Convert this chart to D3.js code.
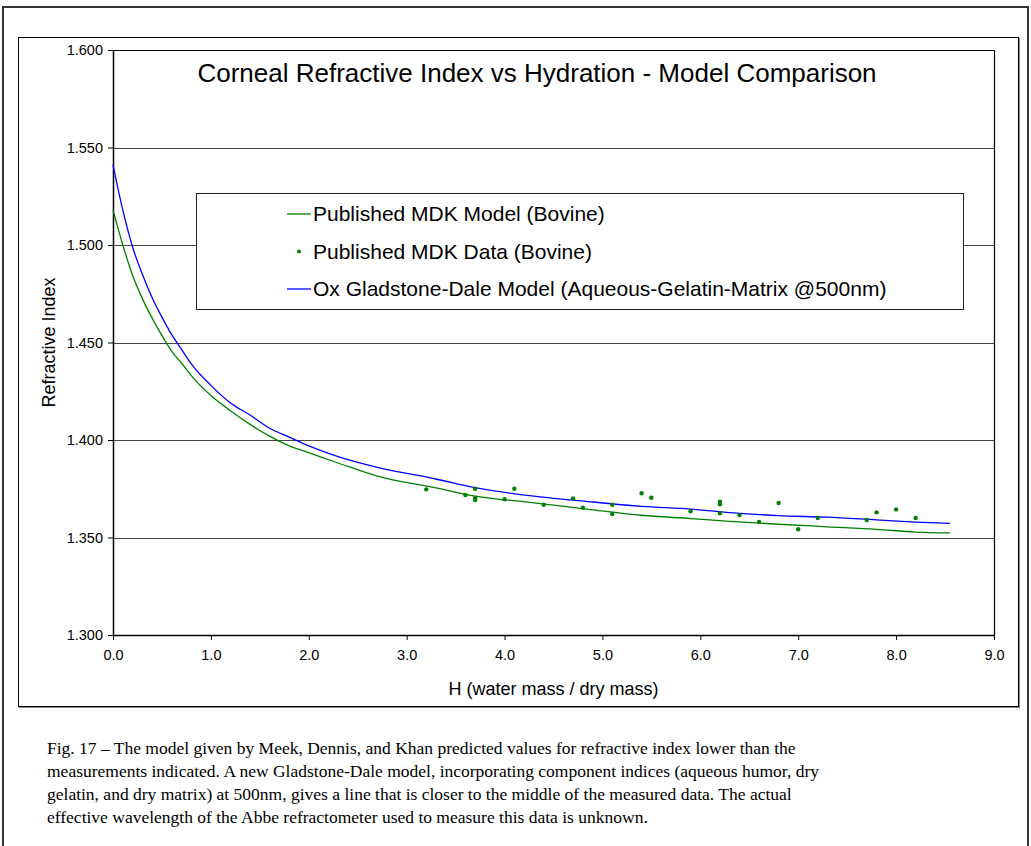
<!DOCTYPE html>
<html>
<head>
<meta charset="utf-8">
<script src="https://cdn.jsdelivr.net/npm/d3@7"></script>
<style>
  body { margin: 0; background: #fff; }
  svg { display: block; }
</style>
</head>
<body>
<svg id="chart"></svg>
<script>
// ---------------------------------------------------- DATA ------------------------------------------------------------------

// hydration values used for both model curves
var modelH = [0, 0.1, 0.2, 0.3, 0.4, 0.5, 0.6, 0.7, 0.8, 1.0, 1.2, 1.4, 1.6, 1.8, 2.0, 2.3, 2.7, 3.3, 3.7, 4.3, 4.9, 5.4, 5.9, 6.3, 6.8, 7.3, 7.8, 8.2, 8.55];

// Published MDK Model (Bovine) - green line
var mdkModel = [1.518, 1.500, 1.4845, 1.4725, 1.4625, 1.4535, 1.4455, 1.4395, 1.433, 1.4228, 1.415, 1.408, 1.402, 1.397, 1.3935, 1.3882, 1.3815, 1.3755, 1.3712, 1.3678, 1.3642, 1.3614, 1.3597, 1.3583, 1.3568, 1.3555, 1.3542, 1.3528, 1.3524];

// Ox Gladstone-Dale Model - blue line
var gdModel = [1.541, 1.518, 1.499, 1.485, 1.473, 1.463, 1.454, 1.4465, 1.439, 1.428, 1.419, 1.4128, 1.406, 1.4015, 1.397, 1.3915, 1.386, 1.380, 1.3756, 1.3712, 1.3682, 1.366, 1.3646, 1.3628, 1.3612, 1.3604, 1.359, 1.3579, 1.3572];

// Published MDK Data (Bovine) - green dots
var dataH  = [3.2, 3.6, 3.7, 3.7, 3.7, 4.0, 4.1, 4.4, 4.7, 4.8, 5.1, 5.1, 5.4, 5.5, 5.9, 6.2, 6.2, 6.2, 6.4, 6.6, 6.8, 7.0, 7.2, 7.7, 7.8, 8.0, 8.2];
var dataRI = [1.3747, 1.3718, 1.375, 1.3703, 1.3692, 1.3696, 1.375, 1.3668, 1.370, 1.3653, 1.3668, 1.362, 1.3727, 1.3704, 1.3634, 1.3684, 1.367, 1.3624, 1.3615, 1.358, 1.3677, 1.3542, 1.360, 1.359, 1.3629, 1.3644, 1.360];

var xTicks = [0, 1, 2, 3, 4, 5, 6, 7, 8, 9];
var yTicks = [1.30, 1.35, 1.40, 1.45, 1.50, 1.55, 1.60];

var legendLabels = ["Published MDK Model (Bovine)", "Published MDK Data (Bovine)", "Ox Gladstone-Dale Model (Aqueous-Gelatin-Matrix @500nm)"];

var captionLines = [
    "Fig. 17 \u2013 The model given by Meek, Dennis, and Khan predicted values for refractive index lower than the",
    "measurements indicated. A new Gladstone-Dale model, incorporating component indices (aqueous humor, dry",
    "gelatin, and dry matrix) at 500nm, gives a line that is closer to the middle of the measured data. The actual",
    "effective wavelength of the Abbe refractometer used to measure this data is unknown."
];

// ---------------------------------------------------- LAYOUT ------------------------------------------------------------------

var svgWidth = 1031, svgHeight = 846;
var plot = { left: 113, top: 50, right: 994, bottom: 635 };
var green = "#008000", blue = "#0000ff";
var sans = "'Liberation Sans', Arial, sans-serif";

var svg = d3.select('#chart')
    .attr("width", svgWidth)
    .attr("height", svgHeight);

//outer page frame
svg.append("rect")
    .attr("x", 3).attr("y", 7)
    .attr("width", 1025).attr("height", 860)
    .attr("fill", "none")
    .attr("stroke", "#333")
    .attr("stroke-width", 2);

//chart area frame (with a little grey shadow like excel)
svg.append("rect")
    .attr("x", 18.5).attr("y", 37.5)
    .attr("width", 1000).attr("height", 669)
    .attr("fill", "none")
    .attr("stroke", "#888")
    .attr("stroke-width", 1)
    .attr("transform", "translate(1,1)");
svg.append("rect")
    .attr("x", 18.5).attr("y", 37.5)
    .attr("width", 1000).attr("height", 669)
    .attr("fill", "#fff")
    .attr("stroke", "#000")
    .attr("stroke-width", 1);

// ---------------------------------------------------- SCALES / AXES ------------------------------------------------------------------

var xScale = d3.scaleLinear()
    .domain([0, 9])
    .range([plot.left, plot.right]);

var yScale = d3.scaleLinear()
    .domain([1.3, 1.6])
    .range([plot.bottom, plot.top]);

//gridlines
svg.append("g")
    .selectAll("line")
    .data(yTicks.slice(1, -1))
    .enter()
    .append("line")
    .attr("x1", plot.left)
    .attr("x2", plot.right)
    .attr("y1", function(d) { return Math.round(yScale(d)) + 0.5; })
    .attr("y2", function(d) { return Math.round(yScale(d)) + 0.5; })
    .attr("stroke", "#444")
    .attr("stroke-width", 1);

//plot frame top and right
svg.append("path")
    .attr("d", "M" + plot.left + "," + (plot.top + 0.5) + "H" + (plot.right + 0.5) + "V" + plot.bottom)
    .attr("fill", "none")
    .attr("stroke", "#000")
    .attr("stroke-width", 1.2);

var x_axis = d3.axisBottom(xScale)
    .tickValues(xTicks)
    .tickFormat(d3.format(".1f"))
    .tickSizeInner(5)
    .tickSizeOuter(0)
    .tickPadding(10);

var y_axis = d3.axisLeft(yScale)
    .tickValues(yTicks)
    .tickFormat(d3.format(".3f"))
    .tickSizeInner(5)
    .tickSizeOuter(0)
    .tickPadding(5);

var gx = svg.append("g")
    .attr("transform", "translate(0," + plot.bottom + ")")
    .call(x_axis);

var gy = svg.append("g")
    .attr("transform", "translate(" + plot.left + ",0)")
    .call(y_axis);

[gx, gy].forEach(function(g) {
    g.selectAll("text")
        .attr("font-family", sans)
        .attr("font-size", 14.5)
        .attr("fill", "#000");
    g.select(".domain").attr("stroke", "#000").attr("stroke-width", 1.5);
    g.selectAll(".tick line").attr("stroke", "#000");
});

//axis titles
svg.append("text")
    .attr("x", (plot.left + plot.right) / 2)
    .attr("y", 695)
    .attr("text-anchor", "middle")
    .attr("font-family", sans)
    .attr("font-size", 18)
    .text("H (water mass / dry mass)");

svg.append("text")
    .attr("transform", "translate(55," + ((plot.top + plot.bottom) / 2) + ") rotate(-90)")
    .attr("text-anchor", "middle")
    .attr("font-family", sans)
    .attr("font-size", 18)
    .text("Refractive Index");

//chart title
svg.append("text")
    .attr("x", 537)
    .attr("y", 82)
    .attr("text-anchor", "middle")
    .attr("font-family", sans)
    .attr("font-size", 26)
    .text("Corneal Refractive Index vs Hydration - Model Comparison");

// ---------------------------------------------------- SERIES ------------------------------------------------------------------

var line = d3.line()
    .x(function(d) { return xScale(d[0]); })
    .y(function(d) { return yScale(d[1]); })
    .curve(d3.curveMonotoneX);

svg.append("path")
    .datum(d3.zip(modelH, mdkModel))
    .attr("fill", "none")
    .attr("stroke", green)
    .attr("stroke-width", 1.3)
    .attr("d", line);

svg.append("path")
    .datum(d3.zip(modelH, gdModel))
    .attr("fill", "none")
    .attr("stroke", blue)
    .attr("stroke-width", 1.3)
    .attr("d", line);

svg.append("g")
    .selectAll("circle")
    .data(d3.zip(dataH, dataRI))
    .enter()
    .append("circle")
    .attr("cx", function(d) { return xScale(d[0]); })
    .attr("cy", function(d) { return yScale(d[1]); })
    .attr("r", 2.2)
    .attr("fill", green);

// ---------------------------------------------------- LEGEND ------------------------------------------------------------------

var legend = svg.append("g");

legend.append("rect")
    .attr("x", 196.5).attr("y", 193.5)
    .attr("width", 767).attr("height", 116)
    .attr("fill", "#fff")
    .attr("stroke", "#222")
    .attr("stroke-width", 1);

var legendY = d3.scalePoint()
    .domain(legendLabels)
    .range([214, 289]);

var items = legend.selectAll("g.item")
    .data(legendLabels)
    .enter()
    .append("g")
    .attr("class", "item")
    .attr("transform", function(d) { return "translate(0," + legendY(d) + ")"; });

items.append("text")
    .attr("x", 313)
    .attr("dy", "0.35em")
    .attr("font-family", sans)
    .attr("font-size", 21)
    .text(function(d) { return d; });

items.filter(function(d, i) { return i !== 1; })
    .append("line")
    .attr("x1", 287).attr("x2", 311)
    .attr("stroke", function(d, i) { return i === 0 ? green : blue; })
    .attr("stroke-width", 1.3);

items.filter(function(d, i) { return i === 1; })
    .append("circle")
    .attr("cx", 299)
    .attr("r", 2)
    .attr("fill", green);

// ---------------------------------------------------- CAPTION ------------------------------------------------------------------

svg.append("g")
    .selectAll("text")
    .data(captionLines)
    .enter()
    .append("text")
    .attr("x", 47)
    .attr("y", function(d, i) { return 754 + i * 23; })
    .attr("font-family", "'Liberation Serif', 'Times New Roman', serif")
    .attr("font-size", 17.5)
    .text(function(d) { return d; });
</script>
</body>
</html>
